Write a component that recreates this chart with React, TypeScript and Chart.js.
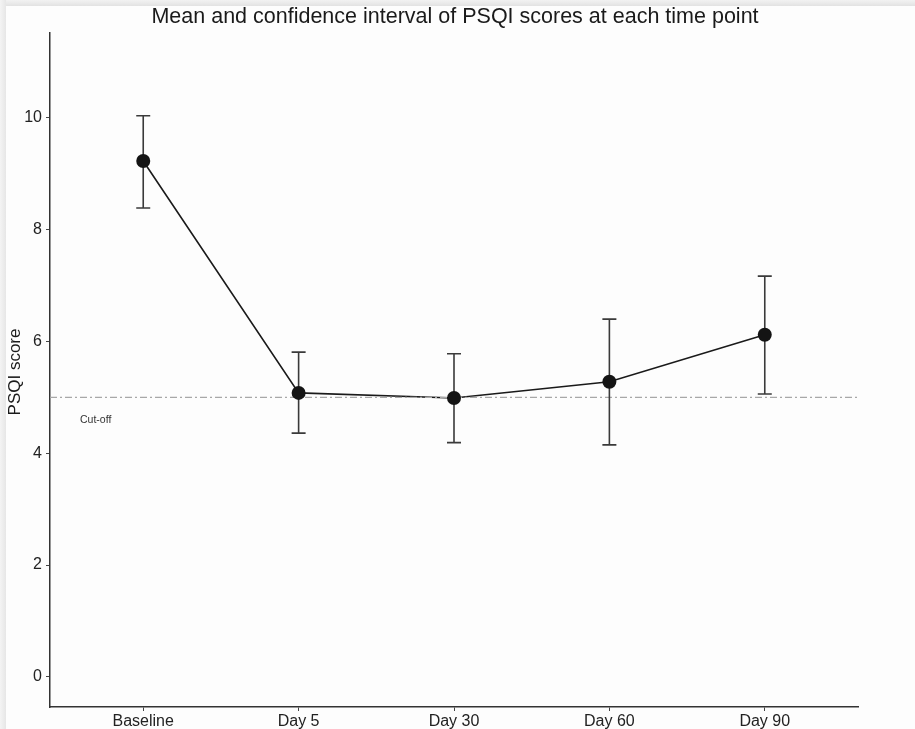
import React, { useEffect, useRef } from "react";
import { Chart, registerables } from "chart.js";

Chart.register(...registerables);

const categories = ["Baseline", "Day 5", "Day 30", "Day 60", "Day 90"];
const means = [9.23, 5.08, 4.99, 5.28, 6.12];
const upper = [10.04, 5.81, 5.78, 6.4, 7.17];
const lower = [8.39, 4.36, 4.19, 4.15, 5.06];
const yTicks = [0, 2, 4, 6, 8, 10];
const cutoff = 5;
const cutoffLabel = "Cut-off";
const title = "Mean and confidence interval of PSQI scores at each time point";
const yTitle = "PSQI score";

const FONT = "'Liberation Sans', Arial, sans-serif";

const errorBarPlugin = {
  id: "errorBars",
  afterDatasetsDraw(chart: any) {
    const { ctx, scales } = chart;
    const xs = scales.x;
    const ys = scales.y;
    ctx.save();
    ctx.strokeStyle = "#3a3a3a";
    ctx.lineWidth = 1.6;
    for (let i = 0; i < means.length; i++) {
      const px = xs.getPixelForValue(i);
      const pu = ys.getPixelForValue(upper[i]);
      const pl = ys.getPixelForValue(lower[i]);
      ctx.beginPath();
      ctx.moveTo(px, pu);
      ctx.lineTo(px, pl);
      ctx.moveTo(px - 7, pu);
      ctx.lineTo(px + 7, pu);
      ctx.moveTo(px - 7, pl);
      ctx.lineTo(px + 7, pl);
      ctx.stroke();
    }
    const meta = chart.getDatasetMeta(1);
    ctx.fillStyle = "#141414";
    meta.data.forEach((pt: any) => {
      ctx.beginPath();
      ctx.arc(pt.x, pt.y, 7, 0, Math.PI * 2);
      ctx.fill();
    });
    ctx.restore();
  },
  afterDraw(chart: any) {
    const { ctx, scales } = chart;
    ctx.save();
    ctx.fillStyle = "#1a1a1a";
    ctx.font = `21.5px ${FONT}`;
    ctx.textAlign = "center";
    ctx.textBaseline = "middle";
    ctx.fillText(title, 455, 17);
    ctx.font = `10.5px ${FONT}`;
    ctx.fillStyle = "#333";
    ctx.textAlign = "left";
    ctx.fillText(cutoffLabel, 80, scales.y.getPixelForValue(cutoff - 0.4));
    ctx.font = `17px ${FONT}`;
    ctx.fillStyle = "#1a1a1a";
    ctx.translate(15, 372);
    ctx.rotate(-Math.PI / 2);
    ctx.textAlign = "center";
    ctx.fillText(yTitle, 0, 0);
    ctx.restore();
  },
};

export default function App() {
  const ref = useRef<HTMLCanvasElement>(null);
  useEffect(() => {
    document.body.style.margin = "0";
    const chart = new Chart(ref.current!, {
      type: "line",
      data: {
        datasets: [
          {
            data: [
              { x: -0.6, y: cutoff },
              { x: 4.6, y: cutoff },
            ],
            borderColor: "#a8a8a8",
            borderWidth: 1.2,
            borderDash: [7, 3, 2, 3],
            pointRadius: 0,
            fill: false,
          },
          {
            data: means.map((m, i) => ({ x: i, y: m })),
            borderColor: "#1a1a1a",
            borderWidth: 1.6,
            pointRadius: 0,
            fill: false,
            tension: 0,
          },
        ],
      },
      plugins: [errorBarPlugin],
      options: {
        animation: false,
        responsive: false,
        layout: { padding: { top: 33, right: 57, left: 0, bottom: 0 } },
        plugins: { legend: { display: false }, tooltip: { enabled: false }, title: { display: false } },
        scales: {
          x: {
            type: "linear",
            min: -0.6,
            max: 4.6,
            afterBuildTicks: (s: any) => {
              s.ticks = categories.map((_, i) => ({ value: i }));
            },
            afterFit: (s: any) => {
              s.height = 22;
            },
            ticks: {
              callback: (v: any) => categories[Math.round(Number(v))] ?? "",
              font: { family: FONT, size: 16 },
              color: "#222",
              padding: 1,
              maxRotation: 0,
              autoSkip: false,
            },
            grid: { display: true, drawOnChartArea: false, drawTicks: true, tickLength: 4, color: "#444" },
            border: { display: true, color: "#333", width: 1.5 },
          },
          y: {
            type: "linear",
            min: -0.54,
            max: 11.52,
            afterBuildTicks: (s: any) => {
              s.ticks = yTicks.map((v) => ({ value: v }));
            },
            afterFit: (s: any) => {
              s.width = 50;
            },
            ticks: {
              font: { family: FONT, size: 16 },
              color: "#222",
              padding: 4,
            },
            grid: { display: true, drawOnChartArea: false, drawTicks: true, tickLength: 4, color: "#444" },
            border: { display: true, color: "#333", width: 1.5 },
          },
        },
      },
    });
    return () => chart.destroy();
  }, []);
  return (
    <div style={{ position: "relative", width: 915, height: 729, background: "#fdfdfd" }}>
      <canvas ref={ref} width={915} height={729} style={{ display: "block" }} />
      <div
        style={{
          position: "absolute",
          left: 0,
          top: 0,
          width: 915,
          height: 6,
          background: "linear-gradient(to bottom, #f2f2f2, #e2e2e2)",
        }}
      />
      <div
        style={{
          position: "absolute",
          left: 0,
          top: 0,
          width: 6,
          height: 729,
          background: "linear-gradient(to right, #f4f4f4, #e6e6e6)",
        }}
      />
    </div>
  );
}
